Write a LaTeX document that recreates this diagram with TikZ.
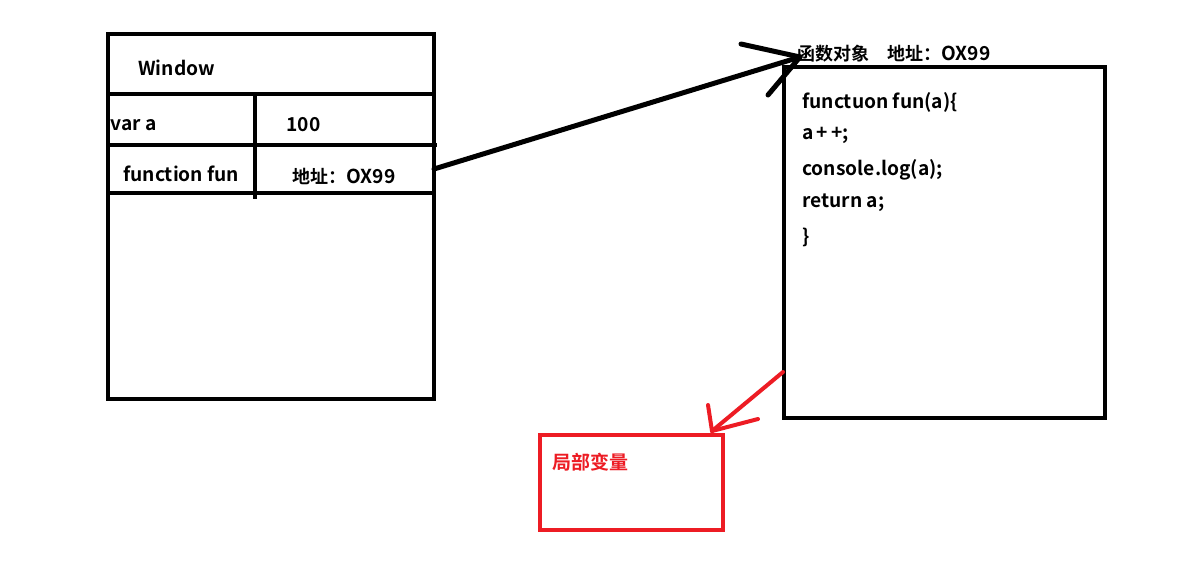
\documentclass[tikz,border=0pt]{standalone}
\usepackage{fontspec}
\setmainfont{Noto Sans CJK SC}[BoldFont={* Bold}]
\newfontfamily\cjk{Noto Sans CJK SC}[BoldFont={* Bold}]
\begin{document}
\begin{tikzpicture}[x=0.5pt,y=-0.5pt,
  blk/.style={line width=2pt,draw=black},
  txt/.style={anchor=west,inner sep=0pt,font=\fontsize{9.6}{11}\selectfont\bfseries},
  redc/.style={draw=pred,line width=2pt},
  cell/.style={inner sep=0pt,outer sep=0pt}]
\definecolor{pred}{HTML}{ED1C24}
\useasboundingbox[fill=white] (0,0) rectangle (1204,586);
% Window box
\draw[blk] (108,34) rectangle (434,399);
\node[cell,minimum width=163pt,minimum height=30pt] (winhead) at (271,64) {};
\draw[blk] (108,94) -- (434,94);
\draw[blk] (108,145) -- (437,145);
\draw[blk] (108,193) -- (434,193);
\draw[blk] (255,94) -- (255,199);
\node[cell,minimum width=89.5pt,minimum height=24pt] (addr) at (344.5,169) {};
\node[txt] (tw) at (138,68) {Window};
\node[txt] (tva) at (110,125) {var a};
\node[txt] (t100) at (286,125) {100};
\node[txt] (tff) at (123,174) {function fun};
\node[txt] (tad) at (292,176) {{\fontsize{9}{11}\selectfont 地址：}OX99};
% function object box
\node[blk,cell,minimum width=160.5pt,minimum height=175.5pt] (fbox) at (944.5,242.5) {};
\node[txt] (flabel) at (797,54) {{\fontsize{9}{11}\selectfont 函数对象\hspace{1em}地址：}OX99};
\node[txt] (c1) at (802,102) {functuon fun(a)\{};
\node[txt] (c2) at (802,135) {a\,+\,+;};
\node[txt] (c3) at (802,170) {console.log(a);};
\node[txt] (c4) at (802,203) {return a;};
\node[txt] (c5) at (802,237) {\}};
% arrow to function object
\coordinate (tip) at (800,57);
\draw[line width=2.5pt,line cap=round] (addr.east) -- (tip);
\draw[line width=2.5pt,line cap=round] (741,44) -- (tip);
\draw[line width=2.5pt,line cap=round] (768,95) -- (tip);
% local variables box
\node[redc,cell,minimum width=91.5pt,minimum height=47.5pt] (lbox) at (631.5,482.5) {};
\node[txt,text=pred] (lt) at (552,462) {\fontsize{9.5}{11}\selectfont 局部变量};
\coordinate (rtip) at (712,431);
\draw[pred,line width=2pt,line cap=round] (783,372) -- (rtip);
\draw[pred,line width=2pt,line cap=round] (708,405) -- (rtip);
\draw[pred,line width=2pt,line cap=round] (758,419) -- (rtip);
\end{tikzpicture}
\end{document}
